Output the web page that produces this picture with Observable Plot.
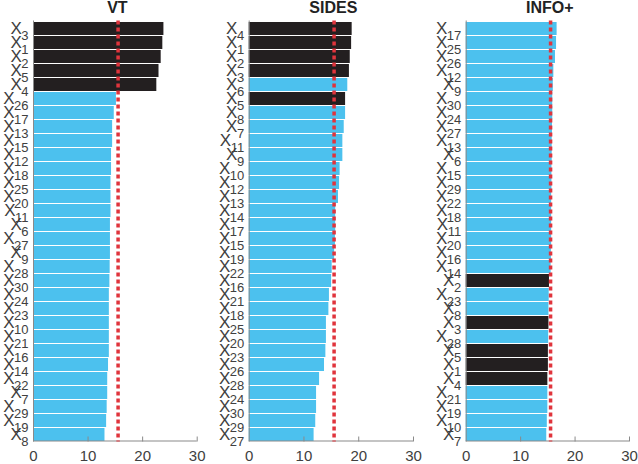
<!DOCTYPE html>
<html>
<head>
<meta charset="utf-8">
<script src="https://cdn.jsdelivr.net/npm/d3@7"></script>
<script src="https://cdn.jsdelivr.net/npm/@observablehq/plot@0.6"></script>
<style>
  html, body { margin: 0; padding: 0; background: #fff; }
  #chart { position: relative; width: 638px; height: 464px; overflow: hidden; }
  #chart > div { position: absolute; top: 0; }
</style>
</head>
<body>
<div id="chart"></div>
<script>
// ---- data ----
const titles = ["VT", "SIDES", "INFO+"];
const vtLabels = [3,1,2,5,4,26,17,13,15,12,18,25,20,11,6,27,9,28,30,24,23,10,21,16,14,22,7,29,19,8];
const vtValues = [23.9,23.7,23.4,23.0,22.6,15.2,14.8,14.5,14.5,14.3,14.3,14.2,14.2,14.2,14.1,14.1,14.1,14.05,14.0,13.9,13.9,13.9,13.9,13.9,13.75,13.6,13.6,13.5,13.4,13.1];
const sidesLabels = [4,1,2,3,6,5,8,7,11,9,10,12,13,14,17,15,19,22,16,21,18,25,20,23,26,28,24,30,29,27];
const sidesValues = [18.8,18.7,18.45,18.3,18.0,17.6,17.6,17.35,17.1,17.1,16.6,16.5,16.3,15.8,15.8,15.75,15.6,15.15,15.05,14.65,14.55,14.1,14.1,14.0,13.75,12.85,12.3,12.3,12.15,11.85];
const infoLabels = [17,25,26,12,9,30,24,27,13,6,15,29,22,18,11,20,16,14,2,23,8,3,28,5,1,4,21,19,10,7];
const infoValues = [16.7,16.6,16.4,16.1,16.0,15.9,15.9,15.85,15.8,15.8,15.75,15.75,15.7,15.7,15.7,15.7,15.65,15.6,15.3,15.25,15.2,15.2,15.15,15.1,15.1,15.0,15.0,15.0,14.9,14.8];
const relevant = [1,2,3,4,5];
const threshold = 15.5;
const xDomain = [0, 30];
const xTicks = [0, 10, 20, 30];

// ---- style ----
const BLUE = "#4cc1ee", BLACK = "#231f20", RED = "#e0343c", GRAY = "#8a8a8a", TEXT = "#404040";
const FONT = '"Liberation Sans", Arial, Helvetica, sans-serif';

const layouts = [
  {left: 0,   width: 212, marginLeft: 33,   marginRight: 15.3},
  {left: 212, width: 212, marginLeft: 36.7, marginRight: 11},
  {left: 424, width: 214, marginLeft: 41.7, marginRight: 9}
];

function panel(title, labels, values, lay) {
  const data = labels.map((l, i) => ({key: l, label: String(l), value: values[i]}));
  const svg = Plot.plot({
    width: lay.width, height: 464,
    marginLeft: lay.marginLeft, marginRight: lay.marginRight,
    marginTop: 20.5, marginBottom: 22.5,
    style: {fontFamily: FONT, background: "transparent", color: TEXT, overflow: "visible"},
    x: {domain: xDomain, label: null},
    y: {domain: data.map(d => d.label), paddingInner: 0.1, paddingOuter: 0.02, label: null},
    marks: [
      Plot.barX(data, {filter: d => !relevant.includes(d.key), x: "value", y: "label", fill: BLUE}),
      Plot.barX(data, {filter: d => relevant.includes(d.key), x: "value", y: "label", fill: BLACK}),
      Plot.ruleX([xDomain[0]], {stroke: GRAY, strokeWidth: 1}),
      Plot.rect([{a: xDomain[0], b: xDomain[1]}], {x1: "a", x2: "b", insetTop: 420, fill: GRAY}),
      Plot.ruleX(xTicks.slice(1), {insetTop: 416, stroke: GRAY}),
      Plot.ruleX([threshold], {stroke: RED, strokeWidth: 3.5, strokeDasharray: "4,3"}),
      Plot.axisX({ticks: xTicks, tickSize: 0, tickPadding: 8.5, fontSize: 15, tickFormat: d => String(d), label: null}),
      Plot.axisY({tickSize: 0, tickPadding: 5, fontSize: 17, label: null}),
      Plot.text([title], {frameAnchor: "top", lineAnchor: "bottom", dy: -8, dx: 2,
        fontSize: 16, fontWeight: "bold", fill: "#222"})
    ]
  });
  // turn y tick labels into X with a subscript number
  svg.querySelectorAll('g[aria-label="y-axis tick label"] text').forEach(t => {
    const n = t.textContent;
    t.textContent = "";
    const ns = "http://www.w3.org/2000/svg";
    const a = document.createElementNS(ns, "tspan");
    a.textContent = "X";
    const b = document.createElementNS(ns, "tspan");
    b.textContent = n;
    b.setAttribute("font-size", "13");
    b.setAttribute("dy", "6");
    b.setAttribute("dx", "-0.5");
    t.appendChild(a);
    t.appendChild(b);
  });
  const div = document.createElement("div");
  div.style.left = lay.left + "px";
  div.appendChild(svg);
  return div;
}

const chart = document.getElementById("chart");
chart.appendChild(panel(titles[0], vtLabels, vtValues, layouts[0]));
chart.appendChild(panel(titles[1], sidesLabels, sidesValues, layouts[1]));
chart.appendChild(panel(titles[2], infoLabels, infoValues, layouts[2]));
</script>
</body>
</html>
